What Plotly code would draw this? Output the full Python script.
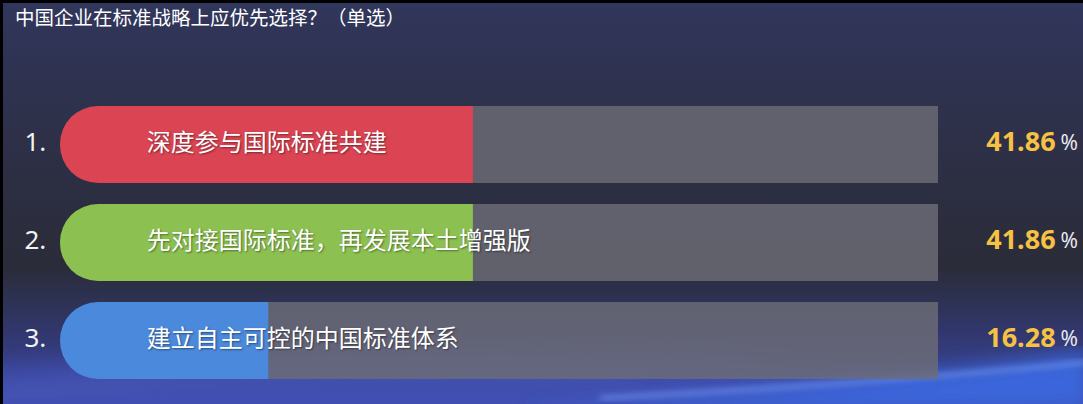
import base64
import plotly.graph_objects as go

# data
ranks = [1, 2, 3]
rank_labels = ["1.", "2.", "3."]
options = ["深度参与国际标准共建", "先对接国际标准，再发展本土增强版", "建立自主可控的中国标准体系"]
percents = [41.86, 41.86, 16.28]
bar_colors = ["#da4453", "#8cc152", "#4a89dc"]
title = "中国企业在标准战略上应优先选择？（单选）"

W, H = 1083, 404
CAP = 9.75  # rounded cap to the left of zero, in % units

# background drawn as an svg picture
svg = f"""<svg xmlns='http://www.w3.org/2000/svg' width='{W}' height='{H}' viewBox='0 0 {W} {H}'>
<defs>
<linearGradient id='bg' x1='0' y1='0' x2='0' y2='1'>
<stop offset='0' stop-color='#31365c'/>
<stop offset='0.35' stop-color='#2d3047'/>
<stop offset='0.66' stop-color='#2a2c39'/>
<stop offset='0.82' stop-color='#31376c'/>
<stop offset='1' stop-color='#3b48a6'/>
</linearGradient>
<filter id='b1'><feGaussianBlur stdDeviation='10'/></filter>
<filter id='b2'><feGaussianBlur stdDeviation='3'/></filter>
</defs>
<rect width='{W}' height='{H}' fill='url(#bg)'/>
<ellipse cx='420' cy='425' rx='650' ry='75' fill='#4454bc' opacity='0.6' filter='url(#b1)'/>
<path d='M520 410 Q820 392 1090 352 L1090 410 Z' fill='#3a66dc' filter='url(#b1)'/>
<path d='M600 398 Q860 385 1090 362' stroke='#80a8ff' stroke-width='3' fill='none' opacity='0.85' filter='url(#b2)'/>
<path d='M0 395 Q300 360 640 372' stroke='#6f7fd0' stroke-width='6' fill='none' opacity='0.35' filter='url(#b1)'/>
<rect x='0' y='0' width='{W}' height='3' fill='#000'/>
<rect x='0' y='0' width='3' height='{H}' fill='#000'/>
</svg>"""
bg_uri = "data:image/svg+xml;base64," + base64.b64encode(svg.encode("utf-8")).decode()

fig = go.Figure()

# grey track 0..100
fig.add_trace(go.Bar(
    y=ranks, x=[100] * len(ranks), base=0, orientation="h",
    width=0.786, marker=dict(color="rgba(108,108,118,0.82)", line=dict(width=0)),
    hoverinfo="skip", showlegend=False,
))
# rounded cap
fig.add_trace(go.Bar(
    y=ranks, x=[CAP + 5] * len(ranks), base=-CAP, orientation="h",
    width=0.786, marker=dict(color=bar_colors, line=dict(width=0), cornerradius="50%"),
    hoverinfo="skip", showlegend=False,
))
# value bars
fig.add_trace(go.Bar(
    y=ranks, x=percents, base=0, orientation="h",
    width=0.786, marker=dict(color=bar_colors, line=dict(width=0)),
    hoverinfo="skip", showlegend=False,
))

# option text inside bars
fig.add_trace(go.Scatter(
    y=ranks, x=[1.1] * len(ranks), mode="text", text=options,
    textposition="middle right",
    textfont=dict(size=24, color="white", family="Noto Sans CJK SC",
                  shadow="1px 1px 2px rgba(0,0,0,0.45)"),
    hoverinfo="skip", showlegend=False,
))
# rank numbers
fig.add_trace(go.Scatter(
    y=ranks, x=[-14.2] * len(ranks), mode="text", text=rank_labels,
    textposition="middle right",
    textfont=dict(size=26, color="#f2f2f2", family="Noto Sans"),
    hoverinfo="skip", showlegend=False,
))
# percentage values
fig.add_trace(go.Scatter(
    y=ranks, x=[114.7] * len(ranks), mode="text",
    text=[f"<b>{p:.2f}</b>" for p in percents],
    textposition="middle left",
    textfont=dict(size=27, color="#f6c244", family="Noto Sans"),
    hoverinfo="skip", showlegend=False,
))
fig.add_trace(go.Scatter(
    y=ranks, x=[115.3] * len(ranks), mode="text", text=["%"] * len(ranks),
    textposition="middle right",
    textfont=dict(size=21, color="#e8e8ee", family="Noto Sans"),
    hoverinfo="skip", showlegend=False,
))

fig.update_layout(
    width=W, height=H,
    margin=dict(l=0, r=0, t=0, b=0),
    barmode="overlay",
    paper_bgcolor="#2c2f42",
    plot_bgcolor="rgba(0,0,0,0)",
    xaxis=dict(range=[-138 / 8, (W - 138) / 8], visible=False, fixedrange=True),
    yaxis=dict(range=[1 + (H - 144.5) / 98, 1 - 144.5 / 98], visible=False, fixedrange=True),
    images=[dict(source=bg_uri, xref="paper", yref="paper", x=0, y=1,
                 sizex=1, sizey=1, sizing="stretch", layer="below",
                 xanchor="left", yanchor="top")],
    annotations=[dict(text=title, xref="paper", yref="paper", x=13 / W, y=1 - 16 / H,
                      xanchor="left", yanchor="middle", showarrow=False,
                      font=dict(size=19.5, color="white", family="Noto Sans CJK SC"))],
)

fig.write_html(
    "out.html",
    config=dict(displayModeBar=False),
    post_script="document.body.style.margin='0';document.body.style.overflow='hidden';"
                "document.body.style.background='#000';",
)
